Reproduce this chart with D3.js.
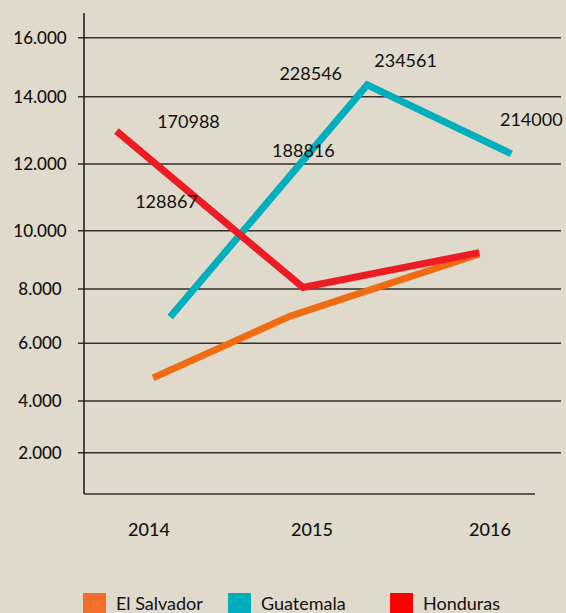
<!DOCTYPE html>
<html>
<head>
<script src="https://cdnjs.cloudflare.com/ajax/libs/d3/7.8.5/d3.min.js"></script>
<style>
  body { margin: 0; background: #dfdacb; }
  svg { display: block; font-family: Lato, "DejaVu Sans", sans-serif; }
</style>
</head>
<body>
<svg id="chart" width="566" height="613"></svg>
<script>
// values
const years = [2014, 2015, 2016]
const yTicks = [2000, 4000, 6000, 8000, 10000, 12000, 14000, 16000]
const yTickLabels = ["2.000", "4.000", "6.000", "8.000", "10.000", "12.000", "14.000", "16.000"]

const seriesNames = ["El Salvador", "Guatemala", "Honduras"]
const lineColors = ["#ef6c13", "#00aebd", "#ed1c24"]
const legendColors = ["#f26e2a", "#00adbc", "#ff0000"]

// points are drawn slightly off the year positions in the original
const salvadorX = [2014.025, 2014.865, 2015.94]
const salvadorY = [4800, 7000, 9200]
const guatemalaX = [2014.13, 2015.31, 2016.12]
const guatemalaY = [6970, 14400, 12300]
const hondurasX = [2013.8, 2014.945, 2015.94]
const hondurasY = [12980, 8050, 9250]

const labelTexts = ["170988", "128867", "228546", "234561", "188816", "214000"]
const labelX = [2014.05, 2013.915, 2014.8, 2015.35, 2014.755, 2016.056]
const labelY = [13070, 10680, 14570, 15000, 12210, 13130]

const svg = d3.select("#chart")

// the source gridlines are not evenly spaced, so both scales are piecewise
const y = d3.scaleLinear()
  .domain([0, 2000, 4000, 6000, 8000, 10000, 12000, 14000, 16000])
  .range([494, 452.7, 401, 343.3, 289, 230.7, 164, 96.7, 37.7])
const x = d3.scaleLinear()
  .domain(years)
  .range([149, 312, 490])

// gridlines with a tick stub left of the axis
svg.append("g")
  .selectAll("line")
  .data(yTicks)
  .join("line")
  .attr("x1", 78)
  .attr("x2", 561)
  .attr("y1", d => y(d))
  .attr("y2", d => y(d))
  .style("stroke", "#35312c")
  .style("stroke-width", 1.6)

svg.append("g")
  .selectAll("text")
  .data(yTicks)
  .join("text")
  .attr("x", 40)
  .attr("y", d => y(d))
  .attr("dy", "0.35em")
  .attr("text-anchor", "middle")
  .style("font-size", "17px")
  .style("font-weight", 500)
  .style("fill", "#111")
  .text((d, i) => yTickLabels[i])

// axis frame
svg.append("line")
  .attr("x1", 84).attr("x2", 84)
  .attr("y1", 13).attr("y2", y(0))
  .style("stroke", "#222").style("stroke-width", 1.6)
svg.append("line")
  .attr("x1", 84).attr("x2", 535)
  .attr("y1", y(0)).attr("y2", y(0))
  .style("stroke", "#35312c").style("stroke-width", 1.6)

svg.append("g")
  .selectAll("text")
  .data(years)
  .join("text")
  .attr("x", d => x(d))
  .attr("y", 536)
  .attr("text-anchor", "middle")
  .style("font-size", "18px")
  .style("font-weight", 500)
  .style("fill", "#111")
  .text(d => d)

// lines
const series = [
  { xs: salvadorX, ys: salvadorY },
  { xs: guatemalaX, ys: guatemalaY },
  { xs: hondurasX, ys: hondurasY }
]
const line = d3.line().x(d => x(d[0])).y(d => y(d[1]))

// Honduras is drawn on top, like the original
svg.append("g")
  .selectAll("path")
  .data(series)
  .join("path")
  .attr("d", s => line(d3.zip(s.xs, s.ys)))
  .style("fill", "none")
  .style("stroke", (s, i) => lineColors[i])
  .style("stroke-width", 7)
  .style("stroke-linejoin", "miter")

// value labels
svg.append("g")
  .selectAll("text")
  .data(labelTexts)
  .join("text")
  .attr("x", (d, i) => x(labelX[i]))
  .attr("y", (d, i) => y(labelY[i]))
  .style("font-size", "18px")
  .style("fill", "#111")
  .text(d => d)

// legend, clipped by the bottom edge as in the original
const legendX = [83, 228, 390]
const legend = svg.append("g")
  .selectAll("g")
  .data(seriesNames)
  .join("g")
  .attr("transform", (d, i) => "translate(" + legendX[i] + ",593)")
legend.append("rect")
  .attr("width", 23).attr("height", 23)
  .style("fill", (d, i) => legendColors[i])
legend.append("text")
  .attr("x", 33).attr("y", 17)
  .style("font-size", "18px")
  .style("fill", "#111")
  .text(d => d)
</script>
</body>
</html>
